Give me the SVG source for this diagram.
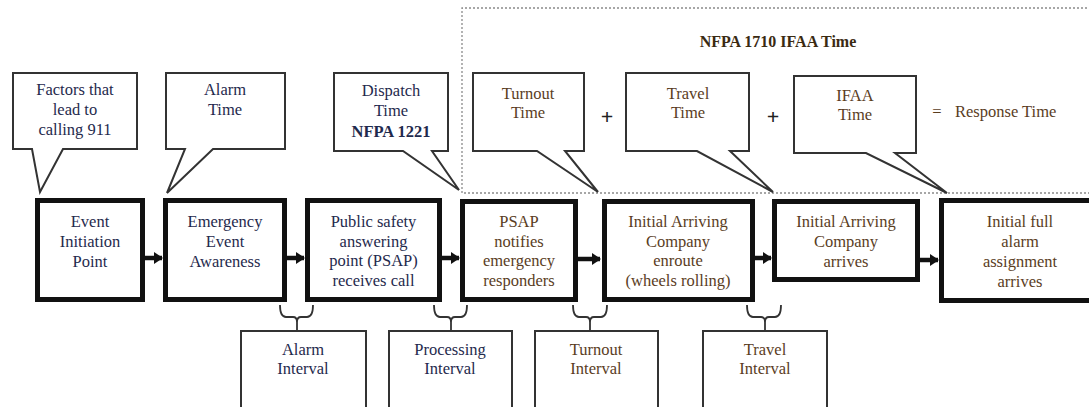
<svg xmlns="http://www.w3.org/2000/svg" width="1089" height="407" viewBox="0 0 1089 407">
<defs>
<style>
.main{fill:#fff;stroke:#111;stroke-width:5}
.call{fill:#fff;stroke:#333;stroke-width:2;stroke-linejoin:miter}
.ivl{fill:#fff;stroke:#333;stroke-width:2}
.t{font-family:"Liberation Serif","Times New Roman",serif;font-size:16.5px;text-anchor:middle}
.navy{fill:#1f2a4d}
.brown{fill:#5a3d1e}
.arr{stroke:#111;stroke-width:4.5;fill:none}
.brace{stroke:#333;stroke-width:1.8;fill:none}
.dash{fill:none;stroke:#8a8a8a;stroke-width:1.3;stroke-dasharray:2 2}
</style>
<marker id="ah" markerUnits="userSpaceOnUse" markerWidth="10" markerHeight="12" refX="8" refY="6" orient="auto">
<path d="M0,0 L9,6 L0,12 Z" fill="#111"/>
</marker>
</defs>
<rect width="1089" height="407" fill="#fff"/>

<g id="ifaa-frame">
<path class="dash" d="M1095,8 H462 V193 H1095"/>
<text x="778" y="47" class="t" style="font-weight:bold;font-size:16px;fill:#3a2a12">NFPA 1710 IFAA Time</text>
</g>

<g id="callout-factors">
<path class="call" d="M13,73 H137 V149 H63 L40,192 L32,149 H13 Z"/>
<text class="t navy" x="75" y="95">Factors that</text>
<text class="t navy" x="75" y="115">lead to</text>
<text class="t navy" x="75" y="135">calling 911</text>
</g>
<g id="callout-alarm">
<path class="call" d="M166,73 H285 V149 H213 L167,193 L185,149 H166 Z"/>
<text class="t navy" x="225" y="95">Alarm</text>
<text class="t navy" x="225" y="115">Time</text>
</g>
<g id="callout-dispatch">
<path class="call" d="M334,73 H448 V151 H432 L459,190 L403,151 H334 Z"/>
<text class="t navy" x="391" y="96">Dispatch</text>
<text class="t navy" x="391" y="116">Time</text>
<text class="t navy" x="391" y="137" font-weight="bold">NFPA 1221</text>
</g>
<g id="callout-turnout">
<path class="call" d="M473,73 H584 V151 H565 L598,192 L537,151 H473 Z"/>
<text class="t brown" x="528" y="99">Turnout</text>
<text class="t brown" x="528" y="118">Time</text>
</g>
<g id="plus1"><text class="t" x="607" y="124" style="font-size:22px;font-weight:bold;fill:#222">+</text></g>
<g id="callout-travel">
<path class="call" d="M626,73 H749 V151 H730 L773,192 L697,151 H626 Z"/>
<text class="t brown" x="688" y="99">Travel</text>
<text class="t brown" x="688" y="118">Time</text>
</g>
<g id="plus2"><text class="t" x="773" y="124" style="font-size:22px;font-weight:bold;fill:#222">+</text></g>
<g id="callout-ifaa">
<path class="call" d="M794,76 H916 V153 H895 L947,193 L866,153 H794 Z"/>
<text class="t brown" x="855" y="101">IFAA</text>
<text class="t brown" x="855" y="120">Time</text>
</g>
<g id="response-time">
<text class="t brown" x="937" y="117">=</text>
<text class="t brown" x="955" y="117" style="text-anchor:start">Response Time</text>
</g>

<g id="event-initiation">
<rect class="main" x="37.5" y="200.5" width="105" height="99"/>
<text class="t navy" x="90" y="227">Event</text>
<text class="t navy" x="90" y="247">Initiation</text>
<text class="t navy" x="90" y="267">Point</text>
</g>
<g id="emergency-awareness">
<rect class="main" x="165.5" y="200.5" width="119" height="99"/>
<text class="t navy" x="225" y="227">Emergency</text>
<text class="t navy" x="225" y="247">Event</text>
<text class="t navy" x="225" y="267">Awareness</text>
</g>
<g id="psap-receives">
<rect class="main" x="307.5" y="200.5" width="132" height="99"/>
<text class="t navy" x="373.5" y="227">Public safety</text>
<text class="t navy" x="373.5" y="247">answering</text>
<text class="t navy" x="373.5" y="266">point (PSAP)</text>
<text class="t navy" x="373.5" y="286">receives call</text>
</g>
<g id="psap-notifies">
<rect class="main" x="462.5" y="201.5" width="113" height="98"/>
<text class="t brown" x="519" y="227">PSAP</text>
<text class="t brown" x="519" y="247">notifies</text>
<text class="t brown" x="519" y="266">emergency</text>
<text class="t brown" x="519" y="286">responders</text>
</g>
<g id="company-enroute">
<rect class="main" x="604.5" y="201.5" width="148" height="98"/>
<text class="t brown" x="678" y="227">Initial Arriving</text>
<text class="t brown" x="678" y="247">Company</text>
<text class="t brown" x="678" y="266">enroute</text>
<text class="t brown" x="678" y="286">(wheels rolling)</text>
</g>
<g id="company-arrives">
<rect class="main" x="774.5" y="201.5" width="143" height="78"/>
<text class="t brown" x="846" y="227">Initial Arriving</text>
<text class="t brown" x="846" y="247">Company</text>
<text class="t brown" x="846" y="267">arrives</text>
</g>
<g id="full-alarm-arrives">
<rect class="main" x="941.5" y="200.5" width="160" height="100"/>
<text class="t brown" x="1020" y="227">Initial full</text>
<text class="t brown" x="1020" y="247">alarm</text>
<text class="t brown" x="1020" y="267">assignment</text>
<text class="t brown" x="1020" y="287">arrives</text>
</g>

<g id="alarm-interval">
<rect class="ivl" x="241" y="331" width="125" height="85"/>
<text class="t navy" x="303" y="355">Alarm</text>
<text class="t navy" x="303" y="374">Interval</text>
</g>
<g id="processing-interval">
<rect class="ivl" x="389" y="331" width="123" height="85"/>
<text class="t navy" x="450" y="355">Processing</text>
<text class="t navy" x="450" y="374">Interval</text>
</g>
<g id="turnout-interval">
<rect class="ivl" x="535" y="331" width="123" height="85"/>
<text class="t brown" x="596" y="355">Turnout</text>
<text class="t brown" x="596" y="374">Interval</text>
</g>
<g id="travel-interval">
<rect class="ivl" x="703" y="331" width="124" height="85"/>
<text class="t brown" x="765" y="355">Travel</text>
<text class="t brown" x="765" y="374">Interval</text>
</g>

<g id="connectors">
<line class="arr" x1="145" y1="258" x2="162" y2="258" marker-end="url(#ah)"/>
<line class="arr" x1="287" y1="258" x2="304" y2="258" marker-end="url(#ah)"/>
<line class="arr" x1="442" y1="258" x2="459" y2="258" marker-end="url(#ah)"/>
<line class="arr" x1="578" y1="259" x2="600" y2="259" marker-end="url(#ah)"/>
<line class="arr" x1="755" y1="258" x2="771" y2="258" marker-end="url(#ah)"/>
<line class="arr" x1="920" y1="260" x2="938" y2="260" marker-end="url(#ah)"/>
<path class="brace" d="M280,305 Q280,317 286,317 H293 Q297,317 297,322 Q297,317 301,317 H307 Q313,317 313,305 M297,322 V331"/>
<path class="brace" d="M434,305 Q434,317 440,317 H447 Q451,317 451,322 Q451,317 455,317 H461 Q467,317 467,305 M451,322 V331"/>
<path class="brace" d="M573,305 Q573,317 579,317 H586 Q590,317 590,322 Q590,317 594,317 H601 Q607,317 607,305 M590,322 V331"/>
<path class="brace" d="M747,305 Q747,317 753,317 H761 Q765,317 765,322 Q765,317 769,317 H775 Q781,317 781,305 M765,322 V331"/>
</g>
</svg>
